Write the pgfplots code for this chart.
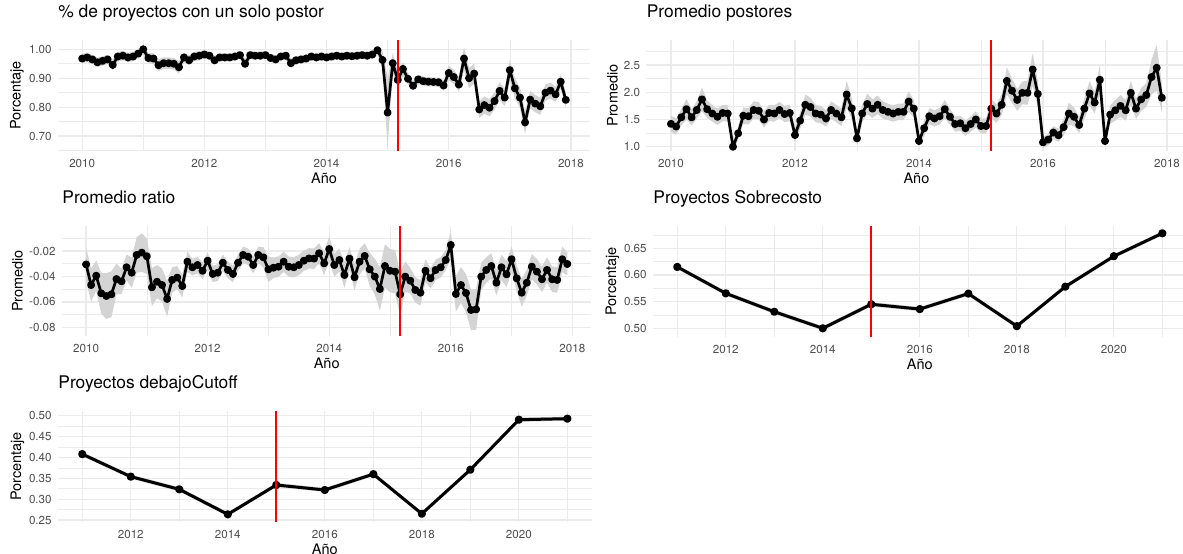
\documentclass[border=0pt]{standalone}
\usepackage{fontspec}
\setmainfont{TeX Gyre Heros}
\usepackage{pgfplots}
\usepackage{pgfplotstable}
\pgfplotsset{compat=1.18}

\definecolor{gridc}{RGB}{235,235,235}
\definecolor{tickc}{RGB}{77,77,77}
\definecolor{ribbon}{RGB}{212,212,212}
\definecolor{rojo}{RGB}{255,0,0}

% monthly series: year, month, value, half-width of the band
\pgfplotstableread{
yr m v w
2010 1 0.968 0.016
2010 2 0.972 0.016
2010 3 0.965 0.016
2010 4 0.955 0.016
2010 5 0.960 0.016
2010 6 0.965 0.016
2010 7 0.946 0.018
2010 8 0.975 0.016
2010 9 0.978 0.016
2010 10 0.972 0.016
2010 11 0.975 0.016
2010 12 0.985 0.016
2011 1 1.000 0.016
2011 2 0.970 0.018
2011 3 0.968 0.018
2011 4 0.945 0.020
2011 5 0.952 0.020
2011 6 0.952 0.020
2011 7 0.950 0.020
2011 8 0.938 0.022
2011 9 0.972 0.016
2011 10 0.962 0.016
2011 11 0.975 0.016
2011 12 0.978 0.016
2012 1 0.982 0.014
2012 2 0.978 0.014
2012 3 0.962 0.015
2012 4 0.972 0.014
2012 5 0.972 0.014
2012 6 0.972 0.014
2012 7 0.975 0.014
2012 8 0.980 0.014
2012 9 0.950 0.018
2012 10 0.980 0.014
2012 11 0.978 0.014
2012 12 0.978 0.014
2013 1 0.980 0.014
2013 2 0.970 0.014
2013 3 0.965 0.014
2013 4 0.975 0.014
2013 5 0.978 0.014
2013 6 0.952 0.016
2013 7 0.962 0.014
2013 8 0.965 0.014
2013 9 0.968 0.014
2013 10 0.975 0.014
2013 11 0.972 0.014
2013 12 0.975 0.014
2014 1 0.972 0.014
2014 2 0.975 0.014
2014 3 0.978 0.014
2014 4 0.975 0.014
2014 5 0.978 0.014
2014 6 0.976 0.014
2014 7 0.978 0.014
2014 8 0.980 0.014
2014 9 0.978 0.014
2014 10 0.982 0.014
2014 11 0.997 0.015
2014 12 0.963 0.030
2015 1 0.781 0.120
2015 2 0.952 0.035
2015 3 0.894 0.030
2015 4 0.932 0.025
2015 5 0.898 0.020
2015 6 0.874 0.016
2015 7 0.896 0.016
2015 8 0.890 0.016
2015 9 0.888 0.016
2015 10 0.887 0.016
2015 11 0.886 0.016
2015 12 0.875 0.018
2016 1 0.918 0.025
2016 2 0.904 0.025
2016 3 0.878 0.025
2016 4 0.968 0.040
2016 5 0.900 0.035
2016 6 0.916 0.035
2016 7 0.792 0.030
2016 8 0.807 0.030
2016 9 0.798 0.030
2016 10 0.821 0.030
2016 11 0.856 0.030
2016 12 0.833 0.030
2017 1 0.928 0.035
2017 2 0.865 0.035
2017 3 0.833 0.035
2017 4 0.747 0.040
2017 5 0.826 0.030
2017 6 0.812 0.030
2017 7 0.803 0.030
2017 8 0.850 0.028
2017 9 0.857 0.028
2017 10 0.844 0.026
2017 11 0.888 0.025
2017 12 0.825 0.025
}\dUnico

\pgfplotstableread{
yr m v w
2010 1 1.42 0.15
2010 2 1.37 0.15
2010 3 1.54 0.15
2010 4 1.69 0.19
2010 5 1.54 0.15
2010 6 1.675 0.16
2010 7 1.87 0.22
2010 8 1.69 0.16
2010 9 1.61 0.15
2010 10 1.55 0.15
2010 11 1.62 0.15
2010 12 1.61 0.15
2011 1 1.00 0.10
2011 2 1.246 0.12
2011 3 1.57 0.15
2011 4 1.56 0.15
2011 5 1.675 0.16
2011 6 1.66 0.16
2011 7 1.50 0.15
2011 8 1.62 0.15
2011 9 1.61 0.15
2011 10 1.675 0.15
2011 11 1.60 0.15
2011 12 1.62 0.15
2012 1 1.215 0.12
2012 2 1.48 0.15
2012 3 1.77 0.19
2012 4 1.73 0.17
2012 5 1.61 0.16
2012 6 1.59 0.16
2012 7 1.52 0.15
2012 8 1.675 0.16
2012 9 1.61 0.16
2012 10 1.54 0.16
2012 11 1.96 0.25
2012 12 1.705 0.19
2013 1 1.154 0.12
2013 2 1.61 0.16
2013 3 1.785 0.19
2013 4 1.70 0.17
2013 5 1.77 0.17
2013 6 1.675 0.16
2013 7 1.64 0.15
2013 8 1.61 0.15
2013 9 1.64 0.15
2013 10 1.64 0.15
2013 11 1.83 0.19
2013 12 1.70 0.16
2014 1 1.105 0.10
2014 2 1.34 0.14
2014 3 1.56 0.15
2014 4 1.52 0.15
2014 5 1.56 0.15
2014 6 1.69 0.17
2014 7 1.55 0.15
2014 8 1.417 0.14
2014 9 1.43 0.14
2014 10 1.34 0.14
2014 11 1.417 0.14
2014 12 1.50 0.15
2015 1 1.38 0.14
2015 2 1.38 0.14
2015 3 1.70 0.17
2015 4 1.61 0.17
2015 5 1.77 0.19
2015 6 2.21 0.25
2015 7 2.03 0.22
2015 8 1.86 0.20
2015 9 1.99 0.21
2015 10 1.99 0.22
2015 11 2.42 0.30
2015 12 1.97 0.25
2016 1 1.08 0.10
2016 2 1.13 0.11
2016 3 1.26 0.12
2016 4 1.21 0.12
2016 5 1.36 0.15
2016 6 1.61 0.20
2016 7 1.55 0.17
2016 8 1.40 0.15
2016 9 1.70 0.19
2016 10 1.98 0.22
2016 11 1.81 0.20
2016 12 2.23 0.27
2017 1 1.105 0.11
2017 2 1.59 0.17
2017 3 1.67 0.19
2017 4 1.75 0.20
2017 5 1.67 0.19
2017 6 1.99 0.22
2017 7 1.70 0.19
2017 8 1.87 0.21
2017 9 1.95 0.22
2017 10 2.28 0.32
2017 11 2.45 0.42
2017 12 1.90 0.27
}\dPostores

\pgfplotstableread{
yr m v w
2010 1 -0.0305 0.013
2010 2 -0.0467 0.013
2010 3 -0.0394 0.012
2010 4 -0.0532 0.016
2010 5 -0.0553 0.018
2010 6 -0.0540 0.018
2010 7 -0.0420 0.012
2010 8 -0.0438 0.010
2010 9 -0.0328 0.010
2010 10 -0.0370 0.012
2010 11 -0.0231 0.014
2010 12 -0.0213 0.015
2011 1 -0.0242 0.014
2011 2 -0.0485 0.015
2011 3 -0.0441 0.013
2011 4 -0.0467 0.013
2011 5 -0.0576 0.014
2011 6 -0.0427 0.010
2011 7 -0.0409 0.009
2011 8 -0.0475 0.009
2011 9 -0.0284 0.008
2011 10 -0.0328 0.0065
2011 11 -0.0310 0.0065
2011 12 -0.0355 0.0065
2012 1 -0.0276 0.0065
2012 2 -0.0380 0.0065
2012 3 -0.0370 0.0065
2012 4 -0.0292 0.0065
2012 5 -0.0349 0.0065
2012 6 -0.0380 0.0065
2012 7 -0.0292 0.0065
2012 8 -0.0231 0.0065
2012 9 -0.0245 0.0065
2012 10 -0.0310 0.0065
2012 11 -0.0231 0.0065
2012 12 -0.0250 0.008
2013 1 -0.0344 0.010
2013 2 -0.0331 0.008
2013 3 -0.0323 0.008
2013 4 -0.0284 0.008
2013 5 -0.0323 0.008
2013 6 -0.0328 0.008
2013 7 -0.0310 0.008
2013 8 -0.0276 0.008
2013 9 -0.0258 0.008
2013 10 -0.0260 0.008
2013 11 -0.0218 0.008
2013 12 -0.0297 0.009
2014 1 -0.0185 0.010
2014 2 -0.0310 0.009
2014 3 -0.0271 0.009
2014 4 -0.0388 0.010
2014 5 -0.0260 0.009
2014 6 -0.0406 0.010
2014 7 -0.0284 0.010
2014 8 -0.0239 0.010
2014 9 -0.0344 0.013
2014 10 -0.0401 0.014
2014 11 -0.0498 0.017
2014 12 -0.0318 0.017
2015 1 -0.0355 0.017
2015 2 -0.0362 0.017
2015 3 -0.0540 0.017
2015 4 -0.0401 0.012
2015 5 -0.0433 0.010
2015 6 -0.0506 0.010
2015 7 -0.0527 0.010
2015 8 -0.0355 0.009
2015 9 -0.0414 0.008
2015 10 -0.0349 0.008
2015 11 -0.0328 0.008
2015 12 -0.0271 0.008
2016 1 -0.0153 0.011
2016 2 -0.0537 0.014
2016 3 -0.0467 0.014
2016 4 -0.0530 0.015
2016 5 -0.0663 0.016
2016 6 -0.0658 0.016
2016 7 -0.0401 0.011
2016 8 -0.0349 0.010
2016 9 -0.0318 0.010
2016 10 -0.0449 0.010
2016 11 -0.0328 0.010
2016 12 -0.0383 0.010
2017 1 -0.0265 0.010
2017 2 -0.0414 0.010
2017 3 -0.0527 0.011
2017 4 -0.0449 0.010
2017 5 -0.0323 0.010
2017 6 -0.0362 0.010
2017 7 -0.0422 0.010
2017 8 -0.0349 0.010
2017 9 -0.0422 0.010
2017 10 -0.0427 0.010
2017 11 -0.0265 0.010
2017 12 -0.0302 0.009
}\dRatio

% yearly series: year, value, half-width of the band
\pgfplotstableread{
yr v w
2011 0.615 0.004
2012 0.5655 0.004
2013 0.531 0.004
2014 0.500 0.004
2015 0.545 0.004
2016 0.536 0.004
2017 0.565 0.004
2018 0.504 0.004
2019 0.578 0.004
2020 0.635 0.004
2021 0.678 0.004
}\dSobre

\pgfplotstableread{
yr v w
2011 0.408 0.005
2012 0.354 0.005
2013 0.3236 0.005
2014 0.2636 0.005
2015 0.334 0.005
2016 0.322 0.005
2017 0.360 0.005
2018 0.265 0.005
2019 0.3706 0.005
2020 0.4905 0.005
2021 0.493 0.005
}\dCutoff

\pgfplotsset{
  gg/.style={
    scale only axis,
    anchor=south west,
    axis line style={draw=none},
    major tick length=0pt,
    minor tick length=0pt,
    grid=both,
    major grid style={line width=0.6pt, color=gridc},
    minor grid style={line width=0.3pt, color=gridc},
    scaled ticks=false,
    /pgf/number format/assume math mode=true,
    /pgf/number format/1000 sep={},
    tick label style={font=\fontsize{5.8}{7}\selectfont, text=tickc, inner sep=0pt},
    xticklabel style={anchor=north, yshift=-4pt},
    yticklabel style={anchor=east, xshift=-3pt},
    title style={at={(axis description cs:0,1)}, anchor=base west, inner sep=0pt,
      yshift=5.4pt, font=\fontsize{8.7}{10}\selectfont},
    xlabel style={at={(axis description cs:0.5,0)}, anchor=north, inner sep=0pt,
      yshift=-10.8pt, font=\fontsize{7.25}{9}\selectfont},
    ylabel style={anchor=center, inner sep=0pt, font=\fontsize{7.25}{9}\selectfont},
    xlabel={Año},
  },
  monthly/.style={
    xmin=2009.604, xmax=2018.313,
    xtick={2010,2012,2014,2016,2018},
    minor xtick={2011,2013,2015,2017},
  },
  yearly/.style={
    xmin=2010.5, xmax=2021.5,
    xtick={2012,2014,2016,2018,2020},
    minor xtick={2011,2013,2015,2017,2019,2021},
  },
  ydec/.style={y tick label style={/pgf/number format/fixed,
      /pgf/number format/fixed zerofill, /pgf/number format/precision=#1}},
  % lower edge of the band (invisible) and the band itself, stacked on it
  bandlo/.style={draw=none, fill=none, stack plots=y, forget plot},
  band/.style={draw=none, fill=ribbon, stack plots=y, forget plot},
  serie/.style={color=black, line width=1.35pt, line join=round, stack plots=false,
    mark=*, mark size=1.3pt, mark options={draw=none, fill=black}},
}

\newcommand{\monthx}{\thisrow{yr}+(\thisrow{m}-1)/12}

\begin{document}
\begin{tikzpicture}

% --- share of projects with a single bidder
\begin{axis}[gg, monthly, at={(29pt,-75.5pt)}, width=266pt, height=55.5pt,
  ymin=0.6481, ymax=1.0322,
  ytick={0.7,0.8,0.9,1.0}, minor ytick={0.65,0.75,0.85,0.95}, ydec=2,
  title={\% de proyectos con un solo postor}, ylabel={Porcentaje},
  ylabel style={at={(axis description cs:-0.0771,0.5)}}]
\addplot[bandlo] table[x expr=\monthx, y expr=\thisrow{v}-\thisrow{w}] {\dUnico};
\addplot[band] table[x expr=\monthx, y expr=2*\thisrow{w}] {\dUnico} \closedcycle;
\addplot[serie] table[x expr=\monthx, y=v] {\dUnico};
\coordinate (c1b) at (axis cs:2015.1667,0.6481);
\coordinate (c1t) at (axis cs:2015.1667,1.0322);
\end{axis}

% --- average number of bidders
\begin{axis}[gg, monthly, at={(323.2pt,-75.5pt)}, width=270pt, height=55.5pt,
  ymin=0.921, ymax=2.961,
  ytick={1,1.5,2,2.5}, minor ytick={1.25,1.75,2.25,2.75}, ydec=1,
  title={Promedio postores}, ylabel={Promedio},
  ylabel style={at={(axis description cs:-0.0628,0.5)}}]
\addplot[bandlo] table[x expr=\monthx, y expr=\thisrow{v}-\thisrow{w}] {\dPostores};
\addplot[band] table[x expr=\monthx, y expr=2*\thisrow{w}] {\dPostores} \closedcycle;
\addplot[serie] table[x expr=\monthx, y=v] {\dPostores};
\coordinate (c2b) at (axis cs:2015.1667,0.921);
\coordinate (c2t) at (axis cs:2015.1667,2.961);
\end{axis}

% --- average ratio
\begin{axis}[gg, monthly, at={(31pt,-168pt)}, width=264.7pt, height=55pt,
  ymin=-0.0867, ymax=-0.0004,
  ytick={-0.08,-0.06,-0.04,-0.02}, minor ytick={-0.07,-0.05,-0.03,-0.01}, ydec=2,
  title={Promedio ratio}, ylabel={Promedio},
  ylabel style={at={(axis description cs:-0.0841,0.5)}}]
\addplot[bandlo] table[x expr=\monthx, y expr=\thisrow{v}-\thisrow{w}] {\dRatio};
\addplot[band] table[x expr=\monthx, y expr=2*\thisrow{w}] {\dRatio} \closedcycle;
\addplot[serie] table[x expr=\monthx, y=v] {\dRatio};
\coordinate (c3b) at (axis cs:2015.1667,-0.0867);
\coordinate (c3t) at (axis cs:2015.1667,-0.0004);
\end{axis}

% --- projects with cost overrun
\begin{axis}[gg, yearly, at={(326.5pt,-168.5pt)}, width=266.8pt, height=55.5pt,
  ymin=0.4837, ymax=0.6916,
  ytick={0.5,0.55,0.6,0.65}, minor ytick={0.525,0.575,0.625,0.675}, ydec=2,
  title={Proyectos Sobrecosto}, ylabel={Porcentaje},
  ylabel style={at={(axis description cs:-0.0759,0.5)}}]
\addplot[bandlo] table[x=yr, y expr=\thisrow{v}-\thisrow{w}] {\dSobre};
\addplot[band] table[x=yr, y expr=2*\thisrow{w}] {\dSobre} \closedcycle;
\addplot[serie, line width=1.5pt] table[x=yr, y=v] {\dSobre};
\coordinate (c4b) at (axis cs:2015,0.4837);
\coordinate (c4t) at (axis cs:2015,0.6916);
\end{axis}

% --- projects below the cutoff
\begin{axis}[gg, yearly, at={(29pt,-261pt)}, width=266.8pt, height=55.5pt,
  ymin=0.2452, ymax=0.5114,
  ytick={0.25,0.30,0.35,0.40,0.45,0.50}, minor ytick={0.275,0.325,0.375,0.425,0.475}, ydec=2,
  title={Proyectos debajoCutoff}, ylabel={Porcentaje},
  ylabel style={at={(axis description cs:-0.0759,0.5)}}]
\addplot[bandlo] table[x=yr, y expr=\thisrow{v}-\thisrow{w}] {\dCutoff};
\addplot[band] table[x=yr, y expr=2*\thisrow{w}] {\dCutoff} \closedcycle;
\addplot[serie, line width=1.5pt] table[x=yr, y=v] {\dCutoff};
\coordinate (c5b) at (axis cs:2015,0.2452);
\coordinate (c5t) at (axis cs:2015,0.5114);
\end{axis}

% policy-change markers across each panel
\begin{scope}[line width=0.85pt]
\draw[rojo] (c1b) -- (c1t);
\draw[rojo] (c2b) -- (c2t);
\draw[rojo] (c3b) -- (c3t);
\draw[rojo] (c4b) -- (c4t);
\draw[rojo] (c5b) -- (c5t);
\end{scope}

% page frame
\pgfresetboundingbox
\useasboundingbox (0,0) rectangle (591.5pt,-276.5pt);
\end{tikzpicture}
\end{document}
